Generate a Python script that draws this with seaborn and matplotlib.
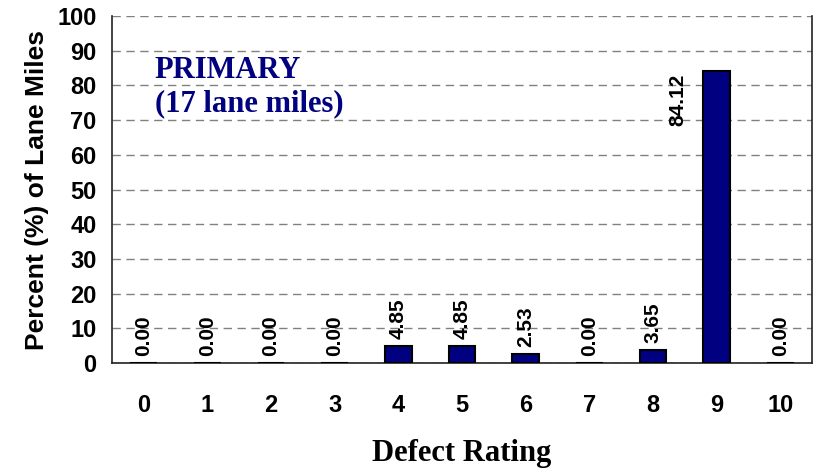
import numpy as np
import pandas as pd
import matplotlib
matplotlib.use("Agg")
import matplotlib.pyplot as plt
import seaborn as sns
from matplotlib.ticker import FixedLocator

# Datos del grafico
ratings = [str(r) for r in range(11)]
percents = [0.00, 0.00, 0.00, 0.00, 4.85, 4.85, 2.53, 0.00, 3.65, 84.12, 0.00]
title_lines = ["PRIMARY", "(17 lane miles)"]

sns.set_style("white")
plt.rcParams["font.family"] = ["Liberation Sans", "DejaVu Sans"]
plt.rcParams["text.color"] = "black"
plt.rcParams["axes.labelcolor"] = "black"
plt.rcParams["xtick.color"] = "black"
plt.rcParams["ytick.color"] = "black"

df = pd.DataFrame({"rating": ratings, "percent": percents})

fig = plt.figure(figsize=(8.14, 4.72), dpi=100)
ax = fig.add_axes([0.1376, 0.231, 0.86, 0.735])

sns.barplot(x="rating", y="percent", data=df, color="#000080", width=0.42,
            edgecolor="black", linewidth=1.5, saturation=1, ax=ax, zorder=3)

ax.set_ylim(0, 100)
ax.set_xlim(-0.5, len(ratings) - 0.5)
ax.set_yticks(range(0, 101, 10))
ax.yaxis.grid(True, linestyle=(0, (6, 4)), color="#808080", linewidth=1)
ax.set_axisbelow(True)

# marcas entre categorias
ax.xaxis.set_minor_locator(FixedLocator(np.arange(-0.5, len(ratings), 1)))
ax.tick_params(axis="x", which="major", length=0, pad=22, labelsize=17)
ax.tick_params(axis="x", which="minor", length=7, width=1, color="#333333", direction="out")
ax.tick_params(axis="y", length=8, width=1, color="#333333", direction="out", labelsize=17, pad=3)
for lab in ax.get_xticklabels() + ax.get_yticklabels():
    lab.set_fontweight("bold")

for side in ["left", "right", "bottom"]:
    ax.spines[side].set_visible(True)
    ax.spines[side].set_color("#222222")
    ax.spines[side].set_linewidth(1.2)
ax.spines["top"].set_visible(False)

# etiquetas de valores
for i, v in enumerate(percents):
    if v > 50:
        ax.annotate(f"{v:.2f}", (i, v), xytext=(-28, -2), textcoords="offset points",
                    rotation=90, ha="center", va="top", fontsize=15, fontweight="bold")
    else:
        ax.annotate(f"{v:.2f}", (i, v), xytext=(0, 5), textcoords="offset points",
                    rotation=90, ha="center", va="bottom", fontsize=15, fontweight="bold")

ax.text(0.061, 0.885, "\n".join(title_lines), transform=ax.transAxes, ha="left", va="top",
        fontsize=22, fontweight="bold", color="#000080", family="Liberation Serif",
        linespacing=1.2)

ax.set_xlabel("Defect Rating", fontsize=22, fontweight="bold", family="Liberation Serif", labelpad=16)
ax.set_ylabel("Percent (%) of Lane Miles", fontsize=19, fontweight="bold", labelpad=6)

fig.savefig("out.png", dpi=100)
